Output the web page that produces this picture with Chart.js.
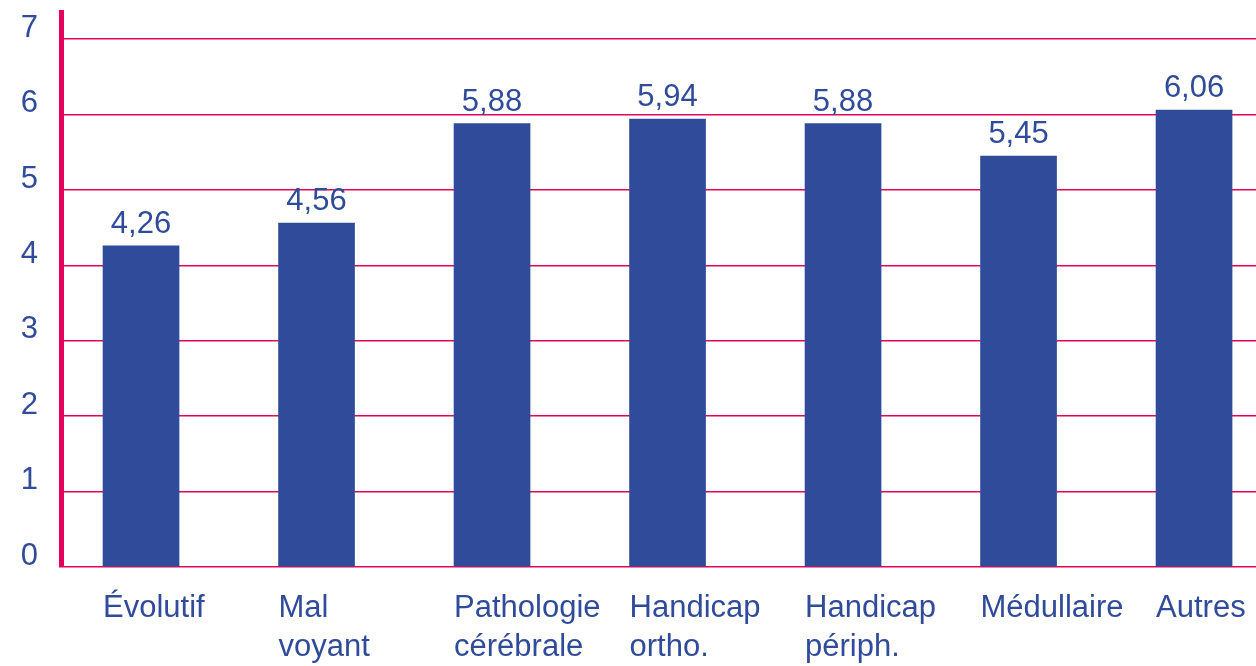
<!DOCTYPE html>
<html>
<head>
<meta charset="utf-8">
<script src="https://cdn.jsdelivr.net/npm/chart.js@4"></script>
<style>
  html, body { margin: 0; padding: 0; background: #fff; overflow: hidden; }
  #wrap { width: 1256px; height: 666px; }
</style>
</head>
<body>
<div id="wrap"><canvas id="bars"></canvas></div>
<script>
var categories = [
  ["Évolutif"],
  ["Mal", "voyant"],
  ["Pathologie", "cérébrale"],
  ["Handicap", "ortho."],
  ["Handicap", "périph."],
  ["Médullaire"],
  ["Autres"]
];
var values = [4.26, 4.56, 5.88, 5.94, 5.88, 5.45, 6.06];
var yTicks = [0, 1, 2, 3, 4, 5, 6, 7];

var blue = "#2F4B9A";
var pink = "#E5005A";
var font = "'Liberation Sans', Arial, sans-serif";

// value labels above the bars (no datalabels plugin offline)
var valueLabels = {
  id: "valueLabels",
  afterDatasetsDraw: function (chart) {
    var ctx = chart.ctx;
    var meta = chart.getDatasetMeta(0);
    ctx.save();
    ctx.fillStyle = blue;
    ctx.font = "31px " + font;
    ctx.textAlign = "center";
    ctx.textBaseline = "alphabetic";
    meta.data.forEach(function (bar, i) {
      ctx.fillText(values[i].toFixed(2).replace(".", ","), bar.x, bar.y - 13);
    });
    ctx.restore();
  }
};

var ctx = document.getElementById("bars");

new Chart(ctx, {
  type: "bar",
  data: {
    datasets: [
      {
        data: values.map(function (v, i) { return { x: i, y: v }; }),
        backgroundColor: blue,
        borderWidth: 0,
        barThickness: 76
      }
    ]
  },
  options: {
    responsive: true,
    maintainAspectRatio: false,
    animation: false,
    layout: { padding: { top: 12, right: 0, left: 0, bottom: 0 } },
    plugins: {
      legend: { display: false },
      tooltip: { enabled: false }
    },
    scales: {
      x: {
        type: "linear",
        offset: false,
        min: -0.456,
        max: 6.353,
        grid: { display: false, drawTicks: false },
        border: { display: false },
        afterBuildTicks: function (scale) {
          scale.ticks = categories.map(function (c, i) { return { value: i }; });
        },
        afterFit: function (scale) {
          scale.height = 99;
          scale.paddingLeft = 0;
          scale.paddingRight = 0;
        },
        ticks: {
          autoSkip: false,
          maxRotation: 0,
          align: "start",
          labelOffset: -38,
          padding: 22,
          color: blue,
          font: { family: font, size: 31, lineHeight: 1.25 },
          callback: function (v) { return categories[v]; }
        }
      },
      y: {
        min: 0,
        max: 7.36,
        afterFit: function (scale) {
          scale.width = 61;
          scale.paddingTop = 0;
          scale.paddingBottom = 0;
        },
        afterBuildTicks: function (scale) {
          scale.ticks = yTicks.map(function (t) { return { value: t }; });
        },
        grid: { color: pink, lineWidth: 1.5, drawTicks: false },
        border: { color: pink, width: 5 },
        ticks: {
          padding: 23,
          labelOffset: -11,
          color: blue,
          font: { family: font, size: 31 }
        }
      }
    }
  },
  plugins: [valueLabels]
});
</script>
</body>
</html>
